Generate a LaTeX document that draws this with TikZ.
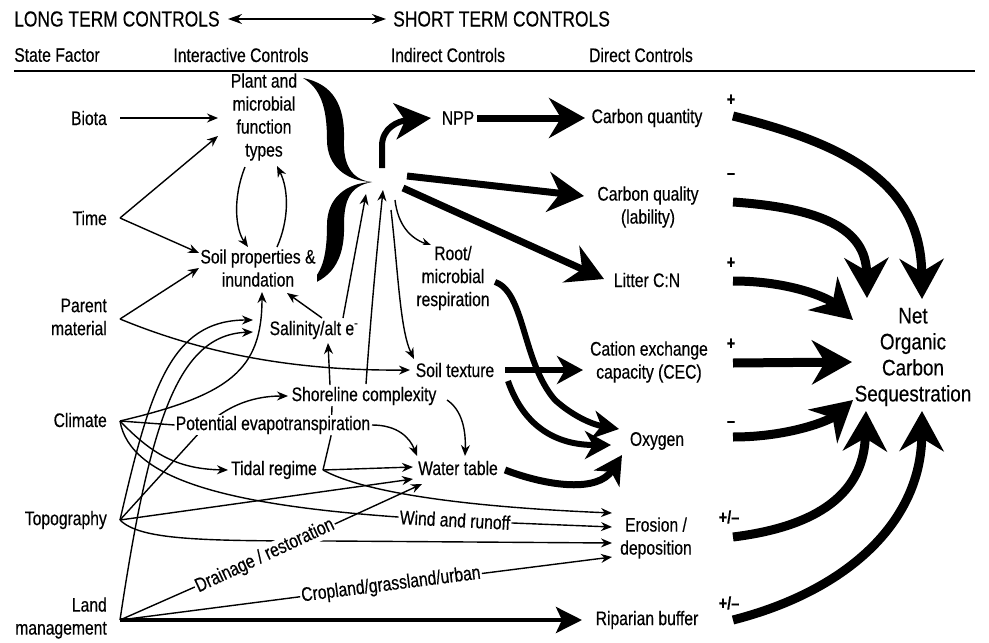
\documentclass[tikz,border=0pt]{standalone}
\usepackage{fontspec}
\setmainfont{Liberation Sans}[FakeStretch=0.80,FakeBold=0.4]
\newfontfamily\netfont{Liberation Sans}[FakeStretch=0.84,FakeBold=0.4]
\usetikzlibrary{arrows.meta}
\pgfdeclarelayer{edges}
\pgfsetlayers{edges,main}
\begin{document}
\begin{tikzpicture}[x=1pt,y=-1pt,
  lab/.style={font=\fontsize{19.6}{23}\selectfont, inner sep=1pt, fill=white, align=center},
  sf/.style={font=\fontsize{19.6}{23}\selectfont, inner sep=1pt, align=right, anchor=east},
  hd/.style={font=\fontsize{19.6}{23}\selectfont, inner sep=1pt},
  ttl/.style={font=\fontsize{21.8}{25}\selectfont, inner sep=0pt, anchor=west},
  sgn/.style={font=\fontsize{18}{20}\selectfont\bfseries, inner sep=0pt},
  tarr/.style={line width=1.4pt, -{Stealth[length=11pt,width=9pt]}},
  link/.style={line width=1.4pt},
  medA/.style={line width=6pt, -{Stealth[length=26pt,width=28pt,inset=8pt]}},
  midA/.style={line width=7pt, -{Stealth[length=36pt,width=40pt,inset=12pt]}},
  bigA/.style={line width=9pt, -{Stealth[length=40pt,width=44pt,inset=13pt]}},
  ripA/.style={line width=4pt, -{Stealth[length=26pt,width=26pt,inset=6pt]}},
]
\useasboundingbox (0,0) rectangle (989,643);

% ---------- header ----------
\node[ttl] (longt) at (14,19) {LONG TERM CONTROLS};
\node[ttl] (shortt) at (393,19) {SHORT TERM CONTROLS};
\coordinate (dblL) at (228,19);
\coordinate (dblR) at (386,19);
\draw[line width=1.3pt,{Stealth[length=14pt,width=10pt]}-{Stealth[length=14pt,width=10pt]}] (dblL) -- (dblR);
\node[hd] (hdA) at (57,55) {State Factor};
\node[hd] (hdB) at (241,55) {Interactive Controls};
\node[hd] (hdC) at (448,55) {Indirect Controls};
\node[hd] (hdD) at (641,55) {Direct Controls};
\coordinate (ruleL) at (14,71);
\coordinate (ruleR) at (975,71);
\draw[line width=1.5pt] (ruleL) -- (ruleR);

% ---------- state factors ----------
\node[sf] (biota) at (108,118) {Biota};
\node[sf] (time) at (108,218) {Time};
\node[sf] (parent) at (108,317) {Parent\\material};
\node[sf] (climate) at (108,420) {Climate};
\node[sf] (topo) at (108,520) {Topography};
\node[sf] (landm) at (108,618) {Land\\management};
\coordinate (biotaO) at (120,118);
\coordinate (timeO) at (120,218);
\coordinate (parO) at (120,319);
\coordinate (climO) at (120,421);
\coordinate (topoO) at (120,520);
\coordinate (landO) at (120,620);

% ---------- interactive controls ----------
\node[lab] (pmft) at (264,117) {Plant and\\microbial\\function\\types};
\node[lab] (soilp) at (258,268) {Soil properties \&\\inundation};
\node[lab] (salin) at (314,330) {Salinity/alt e\textsuperscript{-}};
\node[lab] (shore) at (364,396) {Shoreline complexity};
\node[lab] (pet) at (273,425) {Potential evapotranspiration};
\node[lab] (tidal) at (274,470) {Tidal regime};

% ---------- indirect controls ----------
\node[lab] (npp) at (458,118) {NPP};
\node[lab] (root) at (453,278) {Root/\\microbial\\respiration};
\node[lab] (soilt) at (455,370) {Soil texture};
\node[lab] (water) at (458,468) {Water table};
\node[lab, rotate=-3] (wind) at (455,520) {Wind and runoff};
\node[lab, rotate=25] (drain) at (265,556) {Drainage / restoration};
\node[lab, rotate=7.3] (crop) at (391,585) {Cropland/grassland/urban};

% ---------- direct controls ----------
\node[lab] (cqty) at (647,118) {Carbon quantity};
\node[lab] (cqly) at (648,207) {Carbon quality\\(lability)};
\node[lab] (litter) at (647,280) {Litter C:N};
\node[lab] (cec) at (649,362) {Cation exchange\\capacity (CEC)};
\node[lab] (oxy) at (657,441) {Oxygen};
\node[lab] (eros) at (656,538) {Erosion /\\deposition};
\node[lab] (ripa) at (647,620) {Riparian buffer};

\node[lab, font=\netfont\fontsize{22.5}{26}\selectfont] (net) at (913,357) {Net\\Organic\\Carbon\\Sequestration};

% ---------- signs ----------
\node[sgn] (s1) at (731,100) {+};
\node[sgn] (s2) at (731,176) {--};
\node[sgn] (s3) at (731,263) {+};
\node[sgn] (s4) at (731,344) {+};
\node[sgn] (s5) at (731,424) {--};
\node[sgn] (s6) at (729,517) {+/--};
\node[sgn] (s7) at (729,603) {+/--};

% ---------- anchor points ----------
\coordinate (hub) at (372,182);
\coordinate (hubN) at (382,168);
\coordinate (hubA) at (407,176);
\coordinate (hubB) at (403,188);
\coordinate (hubC) at (395,200);
\coordinate (hubD) at (391,210);
\coordinate (hubIn1) at (366,194);
\coordinate (hubIn2) at (383,190);
\coordinate (nppIn) at (431,118);
\coordinate (nppOut) at (477,118);
\coordinate (cqtyIn) at (585,118);
\coordinate (cqlyIn) at (584,196);
\coordinate (litIn) at (604,279);
\coordinate (pmIn1) at (218,118);
\coordinate (pmIn2) at (218,136);
\coordinate (spIn1) at (199,253);
\coordinate (spIn2) at (199,268);
\coordinate (pmDown) at (245,167);
\coordinate (spUpEnd) at (248,247);
\coordinate (spUp) at (277,247);
\coordinate (pmUpEnd) at (277,166);
\coordinate (salOutA) at (322,318);
\coordinate (spInB) at (287,293);
\coordinate (spInC) at (262,292);
\coordinate (shOutA) at (330,385);
\coordinate (salIn) at (328,343);
\coordinate (salOutB) at (343,318);
\coordinate (shOutB) at (366,384);
\coordinate (rootIn) at (432,246);
\coordinate (stIn1) at (414,359);
\coordinate (stIn2) at (410,370);
\coordinate (salIn1) at (253,320);
\coordinate (salIn2) at (253,332);
\coordinate (shIn) at (288,396);
\coordinate (tdIn) at (228,470);
\coordinate (shDown) at (332,406);
\coordinate (shDown2) at (331,436);
\coordinate (junc) at (323,470);
\coordinate (wtIn1) at (417,456);
\coordinate (wtIn2) at (465,456);
\coordinate (wtIn3) at (413,467);
\coordinate (wtIn4) at (413,479);
\coordinate (wtIn5) at (422,484);
\coordinate (petOut) at (372,425);
\coordinate (shOutC) at (447,400);
\coordinate (erIn1) at (612,513);
\coordinate (erIn2) at (612,527);
\coordinate (erIn3) at (612,543);
\coordinate (erIn4) at (612,557);
\coordinate (ripIn) at (582,620);
\coordinate (stOut1) at (505,370);
\coordinate (cecIn) at (583,370);
\coordinate (stOut2) at (508,381);
\coordinate (oxIn1) at (619,429);
\coordinate (oxIn2) at (611,445);
\coordinate (oxIn3) at (622,455);
\coordinate (rootOut) at (495,282);
\coordinate (wtOut) at (505,470);
\coordinate (q1) at (733,116);
\coordinate (q2) at (733,202);
\coordinate (q3) at (733,281);
\coordinate (q4) at (733,363);
\coordinate (q5) at (733,437);
\coordinate (q6) at (733,537);
\coordinate (q7) at (733,620);
\coordinate (netIn1) at (922,299);
\coordinate (netIn2) at (867,298);
\coordinate (netIn3) at (853,320);
\coordinate (netIn4) at (852,362);
\coordinate (netIn5) at (853,400);
\coordinate (netIn6) at (866,411);
\coordinate (netIn7) at (922,411);

\begin{pgfonlayer}{edges}
% brace
\fill (303,78) .. controls (333,84) and (345,105) .. (344,140)
  .. controls (343,165) and (352,180) .. (hub)
  .. controls (346,181) and (327,166) .. (327,140)
  .. controls (327,106) and (320,88) .. (303,78) -- cycle;
\fill (hub) .. controls (350,186) and (344,200) .. (344,225)
  .. controls (345,262) and (330,280) .. (303,287)
  .. controls (320,278) and (327,262) .. (327,225)
  .. controls (327,198) and (346,183) .. (hub) -- cycle;

% state factor connectors
\draw[tarr] (biotaO) -- (pmIn1);
\draw[tarr] (timeO) -- (pmIn2);
\draw[tarr] (timeO) -- (spIn1);
\draw[tarr] (parO) -- (spIn2);
\draw[tarr] (parO) .. controls (200,352) and (290,371) .. (stIn2);
\draw[link] (climO) -- (pet.west);
\draw[tarr] (climO) .. controls (230,395) and (262,370) .. (spInC);
\draw[tarr] (climO) .. controls (150,452) and (175,469) .. (tdIn);
\draw[link] (climO) .. controls (130,480) and (230,505) .. (wind.west);
\draw[tarr] (wind.east) -- (erIn2);
\draw[tarr] (topoO) .. controls (150,390) and (170,320) .. (salIn1);
\draw[tarr] (landO) .. controls (150,420) and (178,335) .. (salIn2);
\draw[tarr] (topoO) -- (200,432) .. controls (222,408) and (250,396) .. (shIn);
\draw[tarr] (topoO) -- (wtIn4);
\draw[tarr] (topoO) .. controls (140,540) and (200,541) .. (330,541) -- (erIn3);
\draw[link] (landO) -- (drain);
\draw[tarr] (drain) -- (wtIn5);
\draw[link] (landO) -- (crop);
\draw[tarr] (crop) -- (erIn4);
\draw[ripA] (landO) -- (ripIn);

% interactive controls
\draw[tarr] (pmDown) .. controls (232,200) and (236,230) .. (spUpEnd);
\draw[tarr] (spUp) .. controls (289,220) and (289,190) .. (pmUpEnd);
\draw[tarr] (salOutA) -- (spInB);
\draw[tarr] (shOutA) -- (salIn);
\draw[tarr] (salOutB) -- (hubIn1);
\draw[tarr] (shOutB) .. controls (372,300) and (378,240) .. (hubIn2);
\draw[link] (shDown) -- (shDown2) -- (junc);
\draw[tarr] (junc) -- (wtIn3);
\draw[tarr] (junc) .. controls (350,485) and (420,505) .. (erIn1);
\draw[tarr] (petOut) .. controls (398,425) and (410,438) .. (wtIn1);
\draw[tarr] (shOutC) .. controls (462,410) and (466,430) .. (wtIn2);

% hub
\draw[line width=6pt, -{Stealth[length=36pt,width=36pt,inset=10pt]}] (hubN) -- (382,146) .. controls (382,128) and (398,121) .. (nppIn);
\draw[midA] (hubA) -- (cqlyIn);
\draw[midA] (hubB) -- (litIn);
\draw[tarr] (hubC) .. controls (398,225) and (410,238) .. (rootIn);
\draw[tarr] (hubD) .. controls (398,270) and (400,330) .. (stIn1);
\draw[midA] (nppOut) -- (cqtyIn);

% indirect -> direct
\draw[medA] (stOut1) -- (cecIn);
\draw[medA] (stOut2) .. controls (525,430) and (560,445) .. (oxIn2);
\draw[medA] (rootOut) .. controls (525,292) and (522,362) .. (555,400) .. controls (575,418) and (595,425) .. (oxIn1);
\draw[line width=7pt, -{Stealth[length=28pt,width=30pt,inset=8pt]}] (wtOut) .. controls (550,487) and (598,492) .. (oxIn3);

% direct -> net
\draw[bigA] (q1) .. controls (850,145) and (921,185) .. (netIn1);
\draw[bigA] (q2) .. controls (820,208) and (866,228) .. (netIn2);
\draw[bigA] (q3) .. controls (790,281) and (828,298) .. (netIn3);
\draw[bigA] (q4) -- (netIn4);
\draw[bigA] (q5) .. controls (790,437) and (830,420) .. (netIn5);
\draw[bigA] (q6) .. controls (830,525) and (864,485) .. (netIn6);
\draw[bigA] (q7) .. controls (850,590) and (921,520) .. (netIn7);
\end{pgfonlayer}
\end{tikzpicture}
\end{document}
